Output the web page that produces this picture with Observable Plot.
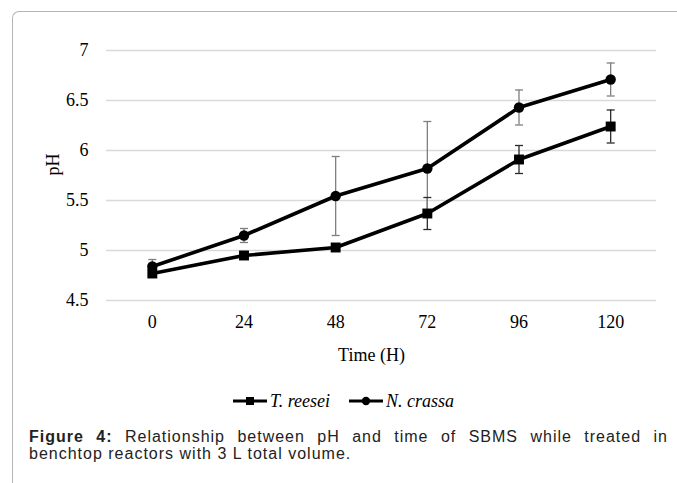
<!DOCTYPE html>
<html>
<head>
<meta charset="utf-8">
<script src="https://cdn.jsdelivr.net/npm/d3@7"></script>
<script src="https://cdn.jsdelivr.net/npm/@observablehq/plot@0.6"></script>
<style>
  html, body { margin: 0; padding: 0; background: #fff; }
  body { width: 677px; height: 483px; overflow: hidden; position: relative; }
  #frame { position: absolute; left: 12px; top: 11px; width: 720px; height: 520px;
           border-left: 1.5px solid #b5b5b5; border-top: 1.5px solid #b5b5b5; border-top-left-radius: 7px; }
  #chart { position: absolute; left: 0; top: 0; }
  #legend { position: absolute; left: 233px; top: 391px; height: 20px; display: flex; align-items: center;
            font-family: "Liberation Serif", "Times New Roman", serif; font-style: italic; font-size: 18px; color: #000; }
  #legend .item { display: flex; align-items: center; margin-right: 19px; }
  #legend svg { display: block; margin-right: 3px; }
  #caption { position: absolute; left: 29px; top: 428px; width: 639px; font-family: "Liberation Sans", Arial, sans-serif;
             font-size: 16px; line-height: 17px; letter-spacing: 1px; color: #222; }
  #caption .l1 { text-align: justify; text-align-last: justify; white-space: nowrap; }
  #caption .l1 { display: flex; justify-content: space-between; }
</style>
</head>
<body>
<div id="frame"></div>
<div id="chart"></div>
<div id="legend"></div>
<div id="caption"></div>
<script>
// ---- data ----
const times = [0, 24, 48, 72, 96, 120];
const seriesNames = ["T. reesei", "N. crassa"];
const reeseiPH  = [4.77, 4.95, 5.03, 5.37, 5.91, 6.24];
const reeseiErr = [0.03, 0.02, 0.02, 0.16, 0.14, 0.165];
const crassaPH  = [4.84, 5.15, 5.545, 5.82, 6.43, 6.71];
const crassaErr = [0.07, 0.07, 0.395, 0.47, 0.175, 0.165];
const yTicks = [4.5, 5, 5.5, 6, 6.5, 7];
const xLabel = "Time (H)";
const yLabel = "pH";
const captionBold = "Figure 4:";
const captionLine1 = "Relationship between pH and time of SBMS while treated in";
const captionLine2 = "benchtop reactors with 3 L total volume.";

const seriesStyle = {
  "T. reesei": { symbol: "square", r: 5.6, err: "#2b2b2b" },
  "N. crassa": { symbol: "circle", r: 5.2, err: "#7f7f7f" }
};

const rows = [];
times.forEach((t, i) => {
  rows.push({ series: "T. reesei", t, ph: reeseiPH[i], err: reeseiErr[i] });
  rows.push({ series: "N. crassa", t, ph: crassaPH[i], err: crassaErr[i] });
});
const caps = rows.flatMap(d => [
  { ...d, y: d.ph + d.err },
  { ...d, y: d.ph - d.err }
]);
const capSymbol = { draw(ctx) { ctx.moveTo(-4, 0); ctx.lineTo(4, 0); } };

const plot = Plot.plot({
  width: 677,
  height: 375,
  marginLeft: 106,
  marginRight: 21,
  marginTop: 50,
  marginBottom: 75,
  style: { fontFamily: '"Liberation Serif", "Times New Roman", serif', fontSize: "18px", color: "#000", background: "transparent", overflow: "visible" },
  x: { domain: [-12, 132], ticks: times, tickFormat: d => String(d), tickSize: 0, tickPadding: 15, label: null },
  y: { domain: [4.5, 7], ticks: yTicks, tickFormat: d => String(d), tickSize: 0, tickPadding: 18, label: null },
  marks: [
    Plot.gridY(yTicks, { stroke: "#d9d9d9", strokeOpacity: 1, strokeWidth: 1.3 }),
    Plot.ruleX(rows, { x: "t", y1: d => d.ph - d.err, y2: d => d.ph + d.err,
                       stroke: d => seriesStyle[d.series].err, strokeWidth: 1.3 }),
    Plot.dot(caps, { x: "t", y: "y", symbol: capSymbol, fill: "none",
                     stroke: d => seriesStyle[d.series].err, strokeWidth: 1.3 }),
    Plot.line(rows, { x: "t", y: "ph", z: "series", stroke: "#000", strokeWidth: 3.6 }),
    Plot.dot(rows.filter(d => d.series === "T. reesei"), { x: "t", y: "ph", symbol: "square", r: seriesStyle["T. reesei"].r, fill: "#000" }),
    Plot.dot(rows.filter(d => d.series === "N. crassa"), { x: "t", y: "ph", symbol: "circle", r: seriesStyle["N. crassa"].r, fill: "#000" }),
    Plot.text([xLabel], { text: d => d, frameAnchor: "bottom", dy: 60, dx: -10, fontSize: 18 }),
    Plot.text([yLabel], { text: d => d, frameAnchor: "left", dx: -53, rotate: -90, fontSize: 18 })
  ]
});
document.getElementById("chart").appendChild(plot);

// legend
const legend = d3.select("#legend");
seriesNames.forEach(name => {
  const item = legend.append("div").attr("class", "item");
  const svg = item.append("svg").attr("width", 34).attr("height", 12);
  svg.append("line").attr("x1", 0).attr("x2", 34).attr("y1", 6).attr("y2", 6).attr("stroke", "#000").attr("stroke-width", 3);
  if (seriesStyle[name].symbol === "square") {
    svg.append("rect").attr("x", 13).attr("y", 2).attr("width", 8).attr("height", 8).attr("fill", "#000");
  } else {
    svg.append("circle").attr("cx", 17).attr("cy", 6).attr("r", 4.2).attr("fill", "#000");
  }
  item.append("span").text(name);
});

// caption: first line justified word by word, second line left aligned
const cap = d3.select("#caption");
const l1 = cap.append("div").attr("class", "l1");
const bw = captionBold.split(" ");
bw.forEach(w => l1.append("b").text(w));
captionLine1.split(" ").forEach(w => l1.append("span").text(w));
cap.append("div").append("span").text(captionLine2);
</script>
</body>
</html>
